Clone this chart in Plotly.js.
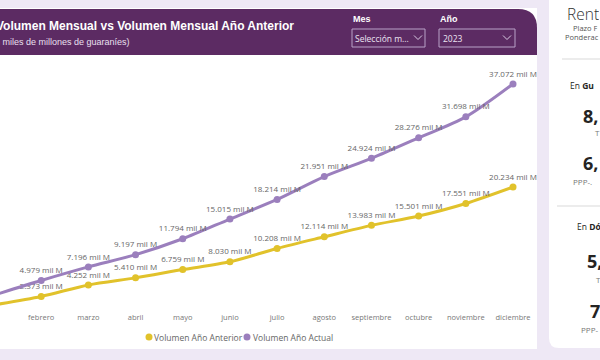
<!DOCTYPE html>
<html>
<head>
<meta charset="utf-8">
<script src="https://cdn.plot.ly/plotly-3.0.1.min.js"></script>
<style>
html,body{margin:0;padding:0;background:#eee8f5;}
#chart{width:600px;height:360px;}
</style>
</head>
<body>
<div id="chart"></div>
<script>
// ---- data ----
const months = ['enero','febrero','marzo','abril','mayo','junio','julio','agosto','septiembre','octubre','noviembre','diciembre'];
const volumenActual = [2600, 4979, 7196, 9197, 11794, 15015, 18214, 21951, 24924, 28276, 31698, 37072];
const volumenAnterior = [1000, 2373, 4252, 5410, 6759, 8030, 10208, 12114, 13983, 15501, 17551, 20234];
const seriesNames = ['Volumen Año Anterior', 'Volumen Año Actual'];
const titleText = 'Volumen Mensual vs Volumen Mensual Año Anterior';
const subtitleText = '(En miles de millones de guaraníes)';

// ---- helpers ----
const L = 0, R = 70, T = 66, B = 49;
const PW = 600 - L - R, PH = 360 - T - B;
const X = px => (px - L) / PW;
const Y = py => (360 - B - py) / PH;

function fmt(v) {
  const th = Math.floor(v / 1000);
  const rest = String(Math.round(v % 1000)).padStart(3, '0');
  return th + '.' + rest + ' mil M';
}

const purple = '#9b7fbd';
const yellow = '#e1c22b';
const labelFont = {family: 'Open Sans, sans-serif', size: 8, color: '#666666'};

const actualText = volumenActual.map((v, i) => i === 0 ? '' : fmt(v));
const anteriorText = volumenAnterior.map(v => fmt(v));
const anteriorPos = volumenAnterior.map((v, i) => i === 0 ? 'bottom center' : 'top center');

const traces = [
  {
    x: months, y: volumenAnterior, name: seriesNames[0], type: 'scatter',
    mode: 'lines+markers+text', text: anteriorText, textposition: anteriorPos,
    textfont: labelFont, cliponaxis: false,
    line: {color: yellow, width: 3, shape: 'spline', smoothing: 0.8},
    marker: {color: yellow, size: 7}, showlegend: false, hoverinfo: 'skip'
  },
  {
    x: months, y: volumenActual, name: seriesNames[1], type: 'scatter',
    mode: 'lines+markers+text', text: actualText, textposition: 'top center',
    textfont: labelFont, cliponaxis: false,
    line: {color: purple, width: 3, shape: 'spline', smoothing: 0.8},
    marker: {color: purple, size: 7}, showlegend: false, hoverinfo: 'skip'
  }
];

const white = '#ffffff';
const headerColor = '#5c2b63';
const shapes = [
  // chart panel
  {type: 'rect', xref: 'paper', yref: 'paper', x0: X(-10), x1: X(537), y0: Y(349), y1: Y(8),
   fillcolor: white, line: {width: 0}, layer: 'below'},
  // header with rounded top-right corner
  {type: 'path', xref: 'paper', yref: 'paper', layer: 'below', fillcolor: headerColor, line: {width: 0},
   path: `M ${X(-10)},${Y(55)} L ${X(-10)},${Y(9)} L ${X(518)},${Y(9)} Q ${X(537)},${Y(9)} ${X(537)},${Y(28)} L ${X(537)},${Y(55)} Z`},
  // right panel
  {type: 'path', xref: 'paper', yref: 'paper', layer: 'below', fillcolor: white, line: {width: 0},
   path: `M ${X(549)},${Y(-10)} L ${X(549)},${Y(338)} Q ${X(549)},${Y(348)} ${X(559)},${Y(348)} L ${X(615)},${Y(348)} L ${X(615)},${Y(-10)} Z`},
  // separators in right panel
  {type: 'line', xref: 'paper', yref: 'paper', x0: X(562), x1: X(605), y0: Y(59), y1: Y(59), line: {color: '#d9d9d9', width: 1}},
  {type: 'line', xref: 'paper', yref: 'paper', x0: X(557), x1: X(605), y0: Y(206), y1: Y(206), line: {color: '#d9d9d9', width: 1}},
  // dropdown boxes
  {type: 'rect', xref: 'paper', yref: 'paper', x0: X(352), x1: X(425), y0: Y(47), y1: Y(29), line: {color: '#b8a2c8', width: 1}, fillcolor: 'rgba(0,0,0,0)'},
  {type: 'rect', xref: 'paper', yref: 'paper', x0: X(439), x1: X(515), y0: Y(47), y1: Y(29), line: {color: '#b8a2c8', width: 1}, fillcolor: 'rgba(0,0,0,0)'},
  // chevrons
  {type: 'path', xref: 'paper', yref: 'paper', line: {color: '#d9cbe3', width: 1},
   path: `M ${X(414)},${Y(35.5)} L ${X(418)},${Y(39.5)} L ${X(422)},${Y(35.5)}`},
  {type: 'path', xref: 'paper', yref: 'paper', line: {color: '#d9cbe3', width: 1},
   path: `M ${X(503)},${Y(35.5)} L ${X(507)},${Y(39.5)} L ${X(511)},${Y(35.5)}`},
  // legend dots
  {type: 'circle', xref: 'paper', yref: 'paper', x0: X(145.5), x1: X(152.5), y0: Y(340.5), y1: Y(333.5), fillcolor: yellow, line: {width: 0}},
  {type: 'circle', xref: 'paper', yref: 'paper', x0: X(243.5), x1: X(250.5), y0: Y(340.5), y1: Y(333.5), fillcolor: purple, line: {width: 0}}
];

function ann(text, px, py, size, color, opts) {
  return Object.assign({
    text: text, xref: 'paper', yref: 'paper', x: X(px), y: Y(py),
    xanchor: 'left', yanchor: 'middle', showarrow: false, borderpad: 0,
    font: {family: 'Open Sans, sans-serif', size: size, color: color}
  }, opts || {});
}

const arial = 'Arial, Liberation Sans, sans-serif';
const annotations = [
  ann('<b>' + titleText + '</b>', 295, 26, 12, '#ffffff', {xanchor: 'right', font: {family: arial, size: 12, color: '#ffffff'}}),
  ann(subtitleText, 131, 42, 9, '#e9e0f0', {xanchor: 'right', font: {family: arial, size: 9, color: '#e9e0f0'}}),
  ann('<b>Mes</b>', 352, 19, 9, '#ffffff', {font: {family: arial, size: 9, color: '#ffffff'}}),
  ann('<b>Año</b>', 439, 19, 9, '#ffffff', {font: {family: arial, size: 9, color: '#ffffff'}}),
  ann('Selección m...', 354, 38.5, 8.5, '#ece4f2'),
  ann('2023', 442, 38.5, 8.5, '#ece4f2'),
  // legend
  ann(seriesNames[0], 153, 337.5, 8.5, '#666666'),
  ann(seriesNames[1], 252, 337.5, 8.5, '#666666'),
  // right panel (cropped)
  ann('Rent', 566, 13.5, 15.5, '#333333', {height: 15, font: {family: 'Open Sans, sans-serif', size: 15.5, color: '#333333', weight: 300}}),
  ann('Plazo F', 572, 28, 7.5, '#555555', {height: 8}),
  ann('Ponderac', 564, 37.5, 7.5, '#555555', {height: 8}),
  ann('En <b>Gu</b>', 569, 85, 8.5, '#252423'),
  ann('<b>8,</b>', 582, 116, 18, '#252423'),
  ann('T', 594, 132, 8, '#777777'),
  ann('<b>6,</b>', 582, 163, 18, '#252423'),
  ann('PPP-.', 572, 181, 8, '#777777'),
  ann('En <b>Dó</b>', 576, 226, 8.5, '#252423'),
  ann('<b>5,</b>', 586, 261, 18, '#252423'),
  ann('T', 595, 279, 8, '#777777'),
  ann('<b>7,</b>', 589, 311, 18, '#252423'),
  ann('PPP-', 580, 329, 8, '#777777')
];

const layout = {
  width: 600, height: 360,
  margin: {l: L, r: R, t: T, b: B, pad: 0},
  paper_bgcolor: '#eee8f5',
  plot_bgcolor: 'rgba(0,0,0,0)',
  showlegend: false,
  xaxis: {
    type: 'category', range: [0.127, 11.36],
    showgrid: false, zeroline: false, showline: false, ticks: '',
    tickfont: {family: 'Open Sans, sans-serif', size: 7.5, color: '#777777'},
    fixedrange: true
  },
  yaxis: {
    range: [0, 40000], visible: false, showgrid: false, zeroline: false, fixedrange: true
  },
  shapes: shapes,
  annotations: annotations
};

Plotly.newPlot('chart', traces, layout, {displayModeBar: false, staticPlot: true});
</script>
</body>
</html>
